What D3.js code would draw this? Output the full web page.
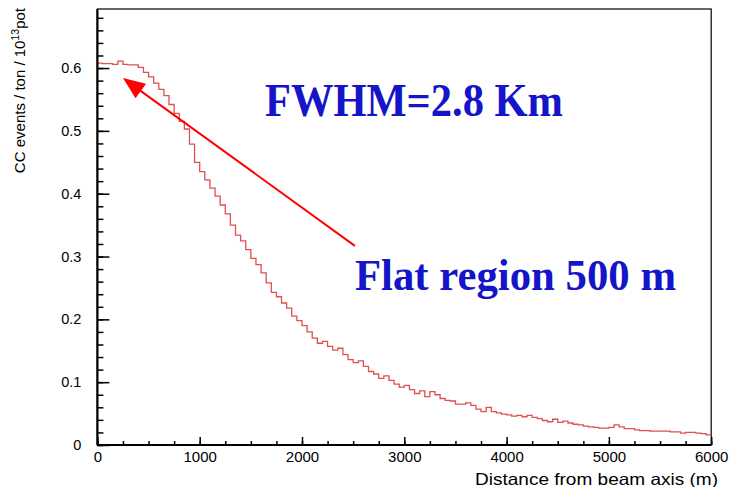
<!DOCTYPE html>
<html><head><meta charset="utf-8">
<script src="https://cdn.jsdelivr.net/npm/d3@7"></script>
<style>body{margin:0;background:#fff}svg{display:block}</style>
</head><body><svg id="c" width="732" height="487"></svg>
<script>
// ---- data ----
const xDomain = [0, 6000];
const yDomain = [0, 0.694];
const binWidth = 50;
const counts = [
 0.608,0.607,0.607,0.606,0.611,0.606,0.605,0.605,0.601,0.593,
 0.586,0.576,0.566,0.556,0.542,0.528,0.515,0.503,0.479,0.450,
 0.435,0.422,0.409,0.396,0.382,0.368,0.350,0.334,0.325,0.311,
 0.297,0.287,0.274,0.258,0.243,0.236,0.226,0.218,0.205,0.198,
 0.190,0.180,0.170,0.162,0.165,0.157,0.151,0.154,0.144,0.136,
 0.131,0.134,0.125,0.117,0.113,0.106,0.110,0.103,0.097,0.092,
 0.095,0.088,0.082,0.086,0.077,0.085,0.080,0.074,0.071,0.070,
 0.065,0.065,0.067,0.063,0.057,0.053,0.060,0.053,0.051,0.049,
 0.048,0.046,0.047,0.045,0.047,0.044,0.042,0.039,0.037,0.041,
 0.036,0.038,0.035,0.033,0.032,0.030,0.029,0.028,0.027,0.027,
 0.028,0.032,0.029,0.026,0.026,0.024,0.023,0.023,0.022,0.022,
 0.022,0.022,0.021,0.021,0.019,0.020,0.020,0.019,0.018,0.016
];
const xTicks = [0,1000,2000,3000,4000,5000,6000];
const xTickLabels = ["0","1000","2000","3000","4000","5000","6000"];
const yTicks = [0,0.1,0.2,0.3,0.4,0.5,0.6];
const yTickLabels = ["0","0.1","0.2","0.3","0.4","0.5","0.6"];
const xTitle = "Distance from beam axis (m)";
const yTitleMain = "CC events / ton / 10", yTitleSup = "13", yTitleEnd = "pot";
const note1 = "FWHM=2.8 Km";
const note2 = "Flat region 500 m";
const arrowTail = [2517, 0.317];
const arrowHead = [250, 0.584];

// ---- layout ----
const svg = d3.select("#c");
const L = 97.4, R = 711.2, T = 9, B = 445;
const x = d3.scaleLinear().domain(xDomain).range([L, R]);
const y = d3.scaleLinear().domain(yDomain).range([B, T]);
const axisFont = "'Liberation Sans', Arial, Helvetica, sans-serif";

// frame
svg.append("rect").attr("x", L).attr("y", T).attr("width", R - L).attr("height", B - T)
  .attr("fill", "none").attr("stroke", "#000").attr("stroke-width", 1.2);

// histogram
const pts = counts.map((v, i) => [i * binWidth, v]);
pts.push([xDomain[1], counts[counts.length - 1]]);
const line = d3.line().x(d => x(d[0])).y(d => y(d[1])).curve(d3.curveStepAfter);
svg.append("path").attr("d", line(pts)).attr("fill", "none")
  .attr("stroke", "#e05050").attr("stroke-width", 1.3);

// y axis
const yMinor = d3.range(0, 0.69, 0.02);
svg.append("g").attr("transform", `translate(${L},0)`)
  .call(d3.axisLeft(y).tickValues(yMinor).tickSize(-6).tickFormat(""))
  .call(g => g.select(".domain").remove())
  .selectAll("line").attr("stroke", "#000").attr("stroke-width", 1.5);
const ya = svg.append("g").attr("transform", `translate(${L},0)`)
  .call(d3.axisLeft(y).tickValues(yTicks).tickSize(-12).tickPadding(16)
    .tickFormat((d, i) => yTickLabels[i]));
ya.select(".domain").attr("stroke", "#000").attr("stroke-width", 2.2).attr("d", `M0,${B}V${T}`);
ya.selectAll("line").attr("stroke", "#000").attr("stroke-width", 1.5);
ya.selectAll("text").attr("font-family", axisFont).attr("font-size", 14.5).attr("fill", "#000");

// x axis
const xMinor = d3.range(0, 6001, 250);
svg.append("g").attr("transform", `translate(0,${B})`)
  .call(d3.axisBottom(x).tickValues(xMinor).tickSize(-4).tickFormat(""))
  .call(g => g.select(".domain").remove())
  .selectAll("line").attr("stroke", "#000").attr("stroke-width", 1.5);
const xa = svg.append("g").attr("transform", `translate(0,${B})`)
  .call(d3.axisBottom(x).tickValues(xTicks).tickSize(-8).tickPadding(6)
    .tickFormat((d, i) => xTickLabels[i]));
xa.select(".domain").attr("stroke", "#000").attr("stroke-width", 2.2).attr("d", `M${L},0H${R}`);
xa.selectAll("line").attr("stroke", "#000").attr("stroke-width", 1.5);
xa.selectAll("text").attr("font-family", axisFont).attr("font-size", 15).attr("fill", "#000");

// axis titles
svg.append("text").attr("x", 718).attr("y", 485).attr("text-anchor", "end")
  .attr("font-family", axisFont).attr("font-size", 16.5).attr("fill", "#000")
  .attr("textLength", 243).attr("lengthAdjust", "spacingAndGlyphs").text(xTitle);
const yt = svg.append("text").attr("transform", `translate(25,8) rotate(-90)`)
  .attr("text-anchor", "end").attr("font-family", axisFont).attr("font-size", 15).attr("fill", "#000");
yt.append("tspan").text(yTitleMain);
yt.append("tspan").attr("dy", -6).attr("font-size", 10.5).text(yTitleSup);
yt.append("tspan").attr("dy", 6).text(yTitleEnd);

// annotations
const noteFont = "'Liberation Serif', 'Times New Roman', serif";
svg.append("text").attr("x", 265).attr("y", 116).attr("font-family", noteFont)
  .attr("font-weight", "bold").attr("font-size", 46).attr("fill", "#1414c8")
  .attr("textLength", 298).attr("lengthAdjust", "spacingAndGlyphs").text(note1);
svg.append("text").attr("x", 355).attr("y", 290).attr("font-family", noteFont)
  .attr("font-weight", "bold").attr("font-size", 45).attr("fill", "#1414c8")
  .attr("textLength", 321).attr("lengthAdjust", "spacingAndGlyphs").text(note2);

// arrow
const tx = x(arrowTail[0]), ty = y(arrowTail[1]);
const hx = x(arrowHead[0]), hy = y(arrowHead[1]);
const dx = hx - tx, dy = hy - ty, len = Math.hypot(dx, dy);
const ux = dx / len, uy = dy / len;
const headLen = 22, headW = 9;
const bx = hx - ux * headLen, by = hy - uy * headLen;
svg.append("line").attr("x1", tx).attr("y1", ty).attr("x2", bx + ux * 2).attr("y2", by + uy * 2)
  .attr("stroke", "#ff0000").attr("stroke-width", 2);
svg.append("path").attr("d",
  `M${hx},${hy}L${bx - uy * headW},${by + ux * headW}L${bx + uy * headW},${by - ux * headW}Z`)
  .attr("fill", "#ff0000");
</script></body></html>
